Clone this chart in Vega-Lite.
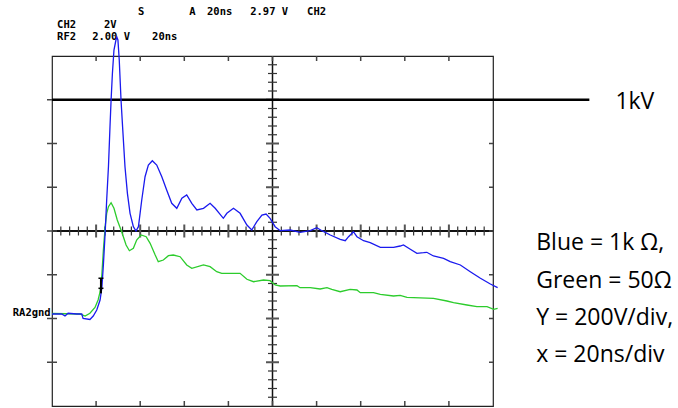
{
  "$schema": "https://vega.github.io/schema/vega-lite/v6.json",
  "width": 441,
  "height": 350,
  "autosize": {"type": "none"},
  "padding": {"left": 52, "top": 56, "right": 185, "bottom": 2},
  "background": "white",
  "config": {"view": {"stroke": "#222222", "strokeWidth": 1.2}},
  "datasets": {
    "traces": [
      {"series": "Green", "t": 0, "V": 22.9}, {"series": "Green", "t": 12.7, "V": 20.6}, {"series": "Green", "t": 15.0, "V": 11.4}, {"series": "Green", "t": 17.2, "V": 23.8}, {"series": "Green", "t": 19.5, "V": 50.3}, {"series": "Green", "t": 20.9, "V": 84.6}, {"series": "Green", "t": 21.8, "V": 121.1}, {"series": "Green", "t": 22.6, "V": 198.9}, {"series": "Green", "t": 23.3, "V": 313.1}, {"series": "Green", "t": 24.1, "V": 419.7}, {"series": "Green", "t": 24.8, "V": 480.9}, {"series": "Green", "t": 25.6, "V": 511.1}, {"series": "Green", "t": 26.8, "V": 529.4}, {"series": "Green", "t": 28.1, "V": 503.8}, {"series": "Green", "t": 29.6, "V": 450.3}, {"series": "Green", "t": 31.6, "V": 396.8}, {"series": "Green", "t": 33.6, "V": 336.0}, {"series": "Green", "t": 35.1, "V": 309.9}, {"series": "Green", "t": 36.9, "V": 320.9}, {"series": "Green", "t": 38.4, "V": 358.9}, {"series": "Green", "t": 40.4, "V": 381.7}, {"series": "Green", "t": 42.7, "V": 373.9}, {"series": "Green", "t": 44.5, "V": 343.8}, {"series": "Green", "t": 46.8, "V": 290.3}, {"series": "Green", "t": 48.2, "V": 259.7}, {"series": "Green", "t": 50.5, "V": 267.4}, {"series": "Green", "t": 52.8, "V": 287.1}, {"series": "Green", "t": 55.0, "V": 290.3}, {"series": "Green", "t": 58.1, "V": 282.5}, {"series": "Green", "t": 61.1, "V": 244.6}, {"series": "Green", "t": 63.4, "V": 229.5}, {"series": "Green", "t": 68.7, "V": 244.6}, {"series": "Green", "t": 71.7, "V": 236.8}, {"series": "Green", "t": 74.7, "V": 213.9}, {"series": "Green", "t": 77.0, "V": 206.6}, {"series": "Green", "t": 85.3, "V": 206.6}, {"series": "Green", "t": 88.4, "V": 179.2}, {"series": "Green", "t": 91.4, "V": 168.2}, {"series": "Green", "t": 95.9, "V": 176.0}, {"series": "Green", "t": 98.9, "V": 172.8}, {"series": "Green", "t": 101.2, "V": 153.1}, {"series": "Green", "t": 103.5, "V": 148.6}, {"series": "Green", "t": 111.1, "V": 149.9}, {"series": "Green", "t": 112.5, "V": 140.8}, {"series": "Green", "t": 117.1, "V": 140.8}, {"series": "Green", "t": 121.6, "V": 134.9}, {"series": "Green", "t": 124.7, "V": 140.8}, {"series": "Green", "t": 126.9, "V": 133.5}, {"series": "Green", "t": 130.7, "V": 122.5}, {"series": "Green", "t": 135.2, "V": 133.5}, {"series": "Green", "t": 138.3, "V": 130.3}, {"series": "Green", "t": 139.8, "V": 117.9}, {"series": "Green", "t": 145.8, "V": 117.9}, {"series": "Green", "t": 148.9, "V": 110.6}, {"series": "Green", "t": 154.9, "V": 102.9}, {"series": "Green", "t": 157.9, "V": 106.1}, {"series": "Green", "t": 161.0, "V": 96.9}, {"series": "Green", "t": 173.0, "V": 92.3}, {"series": "Green", "t": 179.1, "V": 80.0}, {"series": "Green", "t": 182.1, "V": 72.2}, {"series": "Green", "t": 188.2, "V": 61.7}, {"series": "Green", "t": 192.7, "V": 53.9}, {"series": "Green", "t": 197.3, "V": 53.9}, {"series": "Green", "t": 200.3, "V": 42.1}, {"series": "Green", "t": 202.1, "V": 46.6},
      {"series": "Blue", "t": 0, "V": 20.6}, {"series": "Blue", "t": 4.4, "V": 20.6}, {"series": "Blue", "t": 5.9, "V": 11.4}, {"series": "Blue", "t": 7.3, "V": 23.8}, {"series": "Blue", "t": 11.2, "V": 20.6}, {"series": "Blue", "t": 13.5, "V": 20.6}, {"series": "Blue", "t": 14.1, "V": 0}, {"series": "Blue", "t": 17.2, "V": -4.6}, {"series": "Blue", "t": 18.7, "V": 11.4}, {"series": "Blue", "t": 20.3, "V": 38.9}, {"series": "Blue", "t": 21.8, "V": 84.6}, {"series": "Blue", "t": 22.6, "V": 139.4}, {"series": "Blue", "t": 23.3, "V": 244.6}, {"series": "Blue", "t": 24.1, "V": 390.9}, {"series": "Blue", "t": 24.8, "V": 541.7}, {"series": "Blue", "t": 25.6, "V": 693.9}, {"series": "Blue", "t": 26.3, "V": 876.8}, {"series": "Blue", "t": 26.8, "V": 998.9}, {"series": "Blue", "t": 27.4, "V": 1120.9}, {"series": "Blue", "t": 28.1, "V": 1227.4}, {"series": "Blue", "t": 29.0, "V": 1273.1}, {"series": "Blue", "t": 29.4, "V": 1286.8}, {"series": "Blue", "t": 29.9, "V": 1273.1}, {"series": "Blue", "t": 30.5, "V": 1181.7}, {"series": "Blue", "t": 31.3, "V": 998.9}, {"series": "Blue", "t": 32.1, "V": 861.7}, {"series": "Blue", "t": 33.1, "V": 693.9}, {"series": "Blue", "t": 34.2, "V": 572.3}, {"series": "Blue", "t": 35.4, "V": 480.9}, {"series": "Blue", "t": 36.9, "V": 419.7}, {"series": "Blue", "t": 38.1, "V": 400}, {"series": "Blue", "t": 39.2, "V": 419.7}, {"series": "Blue", "t": 40.7, "V": 541.7}, {"series": "Blue", "t": 42.2, "V": 648.2}, {"series": "Blue", "t": 43.7, "V": 701.7}, {"series": "Blue", "t": 45.5, "V": 721.4}, {"series": "Blue", "t": 47.5, "V": 701.7}, {"series": "Blue", "t": 49.8, "V": 648.2}, {"series": "Blue", "t": 52.0, "V": 587.4}, {"series": "Blue", "t": 54.3, "V": 526.6}, {"series": "Blue", "t": 56.6, "V": 503.8}, {"series": "Blue", "t": 58.9, "V": 549.5}, {"series": "Blue", "t": 61.1, "V": 564.6}, {"series": "Blue", "t": 63.4, "V": 526.6}, {"series": "Blue", "t": 65.7, "V": 496.0}, {"series": "Blue", "t": 68.7, "V": 503.8}, {"series": "Blue", "t": 71.7, "V": 526.6}, {"series": "Blue", "t": 74.0, "V": 503.8}, {"series": "Blue", "t": 77.7, "V": 458.1}, {"series": "Blue", "t": 79.3, "V": 480.9}, {"series": "Blue", "t": 82.3, "V": 503.8}, {"series": "Blue", "t": 85.3, "V": 480.9}, {"series": "Blue", "t": 88.4, "V": 427.4}, {"series": "Blue", "t": 90.6, "V": 404.6}, {"series": "Blue", "t": 92.9, "V": 442.5}, {"series": "Blue", "t": 95.2, "V": 473.1}, {"series": "Blue", "t": 97.1, "V": 477.7}, {"series": "Blue", "t": 98.9, "V": 458.1}, {"series": "Blue", "t": 101.2, "V": 419.7}, {"series": "Blue", "t": 103.5, "V": 401.4}, {"series": "Blue", "t": 108.0, "V": 404.6}, {"series": "Blue", "t": 112.5, "V": 394.1}, {"series": "Blue", "t": 117.1, "V": 401.4}, {"series": "Blue", "t": 120.1, "V": 415.1}, {"series": "Blue", "t": 122.4, "V": 401.4}, {"series": "Blue", "t": 126.2, "V": 381.7}, {"series": "Blue", "t": 130.7, "V": 362.1}, {"series": "Blue", "t": 133.0, "V": 355.7}, {"series": "Blue", "t": 134.5, "V": 373.9}, {"series": "Blue", "t": 136.7, "V": 396.8}, {"series": "Blue", "t": 138.3, "V": 373.9}, {"series": "Blue", "t": 141.3, "V": 355.7}, {"series": "Blue", "t": 144.3, "V": 346.5}, {"series": "Blue", "t": 148.9, "V": 325.5}, {"series": "Blue", "t": 154.9, "V": 325.5}, {"series": "Blue", "t": 157.9, "V": 331.4}, {"series": "Blue", "t": 159.4, "V": 336.0}, {"series": "Blue", "t": 162.5, "V": 316.3}, {"series": "Blue", "t": 165.5, "V": 298.1}, {"series": "Blue", "t": 168.5, "V": 300.8}, {"series": "Blue", "t": 170.0, "V": 302.6}, {"series": "Blue", "t": 173.0, "V": 285.7}, {"series": "Blue", "t": 177.6, "V": 275.2}, {"series": "Blue", "t": 180.6, "V": 259.7}, {"series": "Blue", "t": 185.2, "V": 244.6}, {"series": "Blue", "t": 189.7, "V": 213.9}, {"series": "Blue", "t": 194.3, "V": 183.8}, {"series": "Blue", "t": 198.8, "V": 157.7}, {"series": "Blue", "t": 202.1, "V": 140.8}
    ],
    "minorT": [{"t": 4, "V": 400}, {"t": 8, "V": 400}, {"t": 12, "V": 400}, {"t": 16, "V": 400}, {"t": 24, "V": 400}, {"t": 28, "V": 400}, {"t": 32, "V": 400}, {"t": 36, "V": 400}, {"t": 44, "V": 400}, {"t": 48, "V": 400}, {"t": 52, "V": 400}, {"t": 56, "V": 400}, {"t": 64, "V": 400}, {"t": 68, "V": 400}, {"t": 72, "V": 400}, {"t": 76, "V": 400}, {"t": 84, "V": 400}, {"t": 88, "V": 400}, {"t": 92, "V": 400}, {"t": 96, "V": 400}, {"t": 104, "V": 400}, {"t": 108, "V": 400}, {"t": 112, "V": 400}, {"t": 116, "V": 400}, {"t": 124, "V": 400}, {"t": 128, "V": 400}, {"t": 132, "V": 400}, {"t": 136, "V": 400}, {"t": 144, "V": 400}, {"t": 148, "V": 400}, {"t": 152, "V": 400}, {"t": 156, "V": 400}, {"t": 164, "V": 400}, {"t": 168, "V": 400}, {"t": 172, "V": 400}, {"t": 176, "V": 400}, {"t": 184, "V": 400}, {"t": 188, "V": 400}, {"t": 192, "V": 400}, {"t": 196, "V": 400}],
    "majorT": [{"t": 20, "V": 400}, {"t": 40, "V": 400}, {"t": 60, "V": 400}, {"t": 80, "V": 400}, {"t": 120, "V": 400}, {"t": 140, "V": 400}, {"t": 160, "V": 400}, {"t": 180, "V": 400}],
    "topT": [{"t": 20, "V": 1200}, {"t": 40, "V": 1200}, {"t": 60, "V": 1200}, {"t": 80, "V": 1200}, {"t": 100, "V": 1200}, {"t": 120, "V": 1200}, {"t": 140, "V": 1200}, {"t": 160, "V": 1200}, {"t": 180, "V": 1200}],
    "bottomT": [{"t": 20, "V": -400}, {"t": 40, "V": -400}, {"t": 60, "V": -400}, {"t": 80, "V": -400}, {"t": 100, "V": -400}, {"t": 120, "V": -400}, {"t": 140, "V": -400}, {"t": 160, "V": -400}, {"t": 180, "V": -400}],
    "minorV": [{"t": 100, "V": -360}, {"t": 100, "V": -320}, {"t": 100, "V": -280}, {"t": 100, "V": -240}, {"t": 100, "V": -160}, {"t": 100, "V": -120}, {"t": 100, "V": -80}, {"t": 100, "V": -40}, {"t": 100, "V": 40}, {"t": 100, "V": 80}, {"t": 100, "V": 120}, {"t": 100, "V": 160}, {"t": 100, "V": 240}, {"t": 100, "V": 280}, {"t": 100, "V": 320}, {"t": 100, "V": 360}, {"t": 100, "V": 440}, {"t": 100, "V": 480}, {"t": 100, "V": 520}, {"t": 100, "V": 560}, {"t": 100, "V": 640}, {"t": 100, "V": 680}, {"t": 100, "V": 720}, {"t": 100, "V": 760}, {"t": 100, "V": 840}, {"t": 100, "V": 880}, {"t": 100, "V": 920}, {"t": 100, "V": 960}, {"t": 100, "V": 1040}, {"t": 100, "V": 1080}, {"t": 100, "V": 1120}, {"t": 100, "V": 1160}],
    "majorV": [{"t": 100, "V": -200}, {"t": 100, "V": 0}, {"t": 100, "V": 200}, {"t": 100, "V": 600}, {"t": 100, "V": 800}, {"t": 100, "V": 1000}],
    "leftV": [{"t": 0, "V": -200}, {"t": 0, "V": 0}, {"t": 0, "V": 200}, {"t": 0, "V": 400}, {"t": 0, "V": 600}, {"t": 0, "V": 800}, {"t": 0, "V": 1000}],
    "rightV": [{"t": 200, "V": -200}, {"t": 200, "V": 0}, {"t": 200, "V": 200}, {"t": 200, "V": 400}, {"t": 200, "V": 600}, {"t": 200, "V": 800}, {"t": 200, "V": 1000}],
    "header": [
      {"label": "S", "t": 39.0, "V": 1401},
      {"label": "A", "t": 62.2, "V": 1401},
      {"label": "20ns", "t": 70.3, "V": 1401},
      {"label": "2.97 V", "t": 89.9, "V": 1401},
      {"label": "CH2", "t": 115.7, "V": 1401},
      {"label": "CH2", "t": 2.3, "V": 1342},
      {"label": "2V", "t": 23.6, "V": 1342},
      {"label": "RF2", "t": 2.3, "V": 1287},
      {"label": "2.00 V", "t": 18.2, "V": 1287},
      {"label": "20ns", "t": 45.4, "V": 1287}
    ],
    "notes": [
      {"label": "1kV", "t": 255.5, "V": 956},
      {"label": "Blue = 1k Ω,", "t": 219.6, "V": 313},
      {"label": "Green = 50Ω", "t": 219.6, "V": 141},
      {"label": "Y = 200V/div,", "t": 219.6, "V": -30},
      {"label": "x = 20ns/div", "t": 219.6, "V": -197}
    ]
  },
  "encoding": {
    "x": {"field": "t", "type": "quantitative", "scale": {"domain": [0, 200], "nice": false, "zero": false}, "axis": null},
    "y": {"field": "V", "type": "quantitative", "scale": {"domain": [-400, 1200], "nice": false, "zero": false}, "axis": null}
  },
  "layer": [
    {"data": {"values": [{"t": 100}]}, "mark": {"type": "rule", "color": "#111111", "strokeWidth": 1.5}, "encoding": {"y": null}},
    {"data": {"values": [{"V": 400}]}, "mark": {"type": "rule", "color": "#111111", "strokeWidth": 1.8}, "encoding": {"x": null}},
    {"data": {"name": "minorT"}, "mark": {"type": "point", "shape": "M0,-1L0,1", "size": 81, "filled": false, "color": "#333333", "strokeWidth": 1.2, "opacity": 1}},
    {"data": {"name": "majorT"}, "mark": {"type": "point", "shape": "M0,-1L0,1", "size": 169, "filled": false, "color": "#555555", "strokeWidth": 2, "opacity": 1}},
    {"data": {"name": "minorV"}, "mark": {"type": "point", "shape": "M-1,0L1,0", "size": 81, "filled": false, "color": "#333333", "strokeWidth": 1.2, "opacity": 1}},
    {"data": {"name": "majorV"}, "mark": {"type": "point", "shape": "M-1,0L1,0", "size": 169, "filled": false, "color": "#555555", "strokeWidth": 2, "opacity": 1}},
    {"data": {"name": "topT"}, "mark": {"type": "point", "shape": "M0,0L0,1", "size": 100, "filled": false, "color": "#444444", "strokeWidth": 1.5, "opacity": 1}},
    {"data": {"name": "bottomT"}, "mark": {"type": "point", "shape": "M0,-1L0,0", "size": 100, "filled": false, "color": "#444444", "strokeWidth": 1.5, "opacity": 1}},
    {"data": {"name": "leftV"}, "mark": {"type": "point", "shape": "M-1,0L1,0", "size": 100, "filled": false, "color": "#444444", "strokeWidth": 1.5, "opacity": 1}},
    {"data": {"name": "rightV"}, "mark": {"type": "point", "shape": "M-1,0L0,0", "size": 64, "filled": false, "color": "#444444", "strokeWidth": 1.5, "opacity": 1}},
    {"data": {"values": [{"t": 0, "t2": 243.7, "V": 1000}]}, "mark": {"type": "rule", "color": "#000000", "strokeWidth": 2.5}, "encoding": {"x2": {"field": "t2"}}},
    {"data": {"name": "header"}, "mark": {"type": "text", "align": "left", "baseline": "middle", "font": "DejaVu Sans Mono", "fontWeight": "bold", "fontSize": 10.5, "color": "#000000"}, "encoding": {"text": {"field": "label"}}},
    {"data": {"values": [{"label": "RA2gnd", "t": -0.6, "V": 25}]}, "mark": {"type": "text", "align": "right", "baseline": "middle", "font": "DejaVu Sans Mono", "fontWeight": "bold", "fontSize": 10.5, "color": "#000000"}, "encoding": {"text": {"field": "label"}}},
    {"data": {"name": "traces"}, "mark": {"type": "line", "strokeWidth": 1.3, "clip": false}, "encoding": {"color": {"field": "series", "type": "nominal", "scale": {"domain": ["Green", "Blue"], "range": ["#2ccc2c", "#1a1aee"]}, "legend": null}}},
    {"data": {"values": [{"t": 22.2, "V": 115, "V2": 184}]}, "mark": {"type": "rule", "color": "#000000", "strokeWidth": 2}, "encoding": {"y2": {"field": "V2"}}},
    {"data": {"values": [{"t": 22.2, "V": 184}, {"t": 22.2, "V": 138}]}, "mark": {"type": "point", "shape": "M-1,0L1,0", "size": 25, "filled": false, "color": "#000000", "strokeWidth": 1.5, "opacity": 1}},
    {"data": {"name": "notes"}, "mark": {"type": "text", "align": "left", "baseline": "alphabetic", "font": "Open Sans", "fontSize": 23, "color": "#000000"}, "encoding": {"text": {"field": "label"}}}
  ]
}
